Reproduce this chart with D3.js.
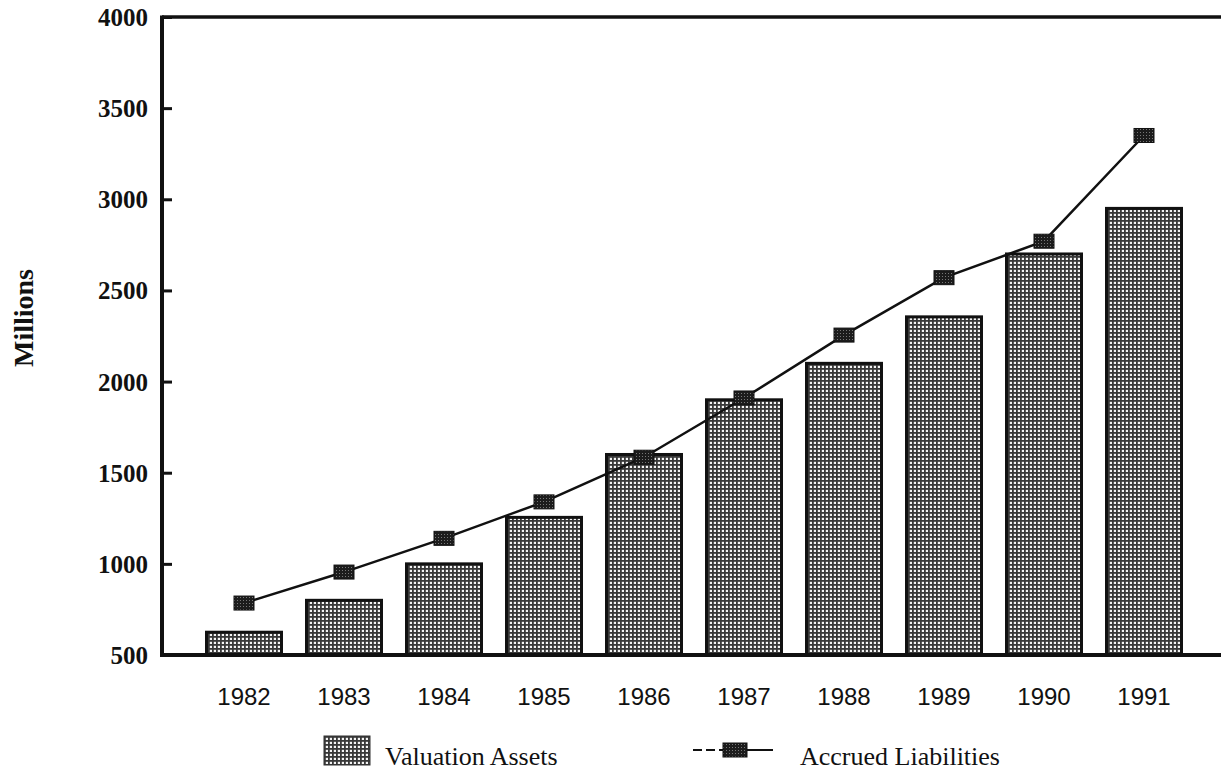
<!DOCTYPE html>
<html>
<head>
<meta charset="utf-8">
<script src="https://cdn.jsdelivr.net/npm/d3@7"></script>
<style>
  html, body { margin: 0; padding: 0; background: #fff; }
  svg { display: block; }
</style>
</head>
<body>
<div id="chartDiv"></div>
<script>
// Data
const years = ['1982', '1983', '1984', '1985', '1986', '1987', '1988', '1989', '1990', '1991'];
const valuationAssets = [625, 800, 1000, 1255, 1600, 1900, 2100, 2355, 2700, 2950];
const accruedLiabilities = [785, 955, 1140, 1340, 1585, 1910, 2255, 2570, 2770, 3350];
const yTickValues = [500, 1000, 1500, 2000, 2500, 3000, 3500, 4000];

// Build Variables
const width = 1221, height = 777;
const plot = { left: 162, right: 1221, top: 17, bottom: 655 };

const svg = d3.select('#chartDiv').append('svg')
  .attr('width', width)
  .attr('height', height);

// grid pattern used for the bars and legend swatch
const defs = svg.append('defs');
const pat = defs.append('pattern')
  .attr('id', 'grid')
  .attr('patternUnits', 'userSpaceOnUse')
  .attr('width', 4).attr('height', 4);
pat.append('rect').attr('width', 4).attr('height', 4).attr('fill', '#f4f4f4');
pat.append('rect').attr('x', 0).attr('y', 0).attr('width', 4).attr('height', 1.8).attr('fill', '#383838');
pat.append('rect').attr('x', 0).attr('y', 0).attr('width', 1.8).attr('height', 4).attr('fill', '#383838');

const mpat = defs.append('pattern')
  .attr('id', 'mark')
  .attr('patternUnits', 'userSpaceOnUse')
  .attr('width', 3).attr('height', 3);
mpat.append('rect').attr('width', 3).attr('height', 3).attr('fill', '#1c1c1c');
mpat.append('rect').attr('width', 1).attr('height', 1).attr('fill', '#777');

// Scales
const xScale = d3.scaleBand()
  .domain(years)
  .range([194, 1194])
  .paddingInner(0.25)
  .paddingOuter(0.125);

const yScale = d3.scaleLinear()
  .domain([500, 4000])
  .range([plot.bottom, plot.top]);

// Bars
svg.append('g').selectAll('rect')
  .data(valuationAssets)
  .enter().append('rect')
    .attr('x', (d, i) => xScale(years[i]))
    .attr('y', d => yScale(d))
    .attr('width', xScale.bandwidth())
    .attr('height', d => plot.bottom - yScale(d))
    .attr('fill', 'url(#grid)')
    .attr('stroke', '#111')
    .attr('stroke-width', 3);

// Line
const xCenter = i => xScale(years[i]) + xScale.bandwidth() / 2;
const line = d3.line()
  .x((d, i) => xCenter(i))
  .y(d => yScale(d));

svg.append('path')
  .datum(accruedLiabilities)
  .attr('d', line)
  .attr('fill', 'none')
  .attr('stroke', '#111')
  .attr('stroke-width', 2.5);

svg.append('g').selectAll('rect')
  .data(accruedLiabilities)
  .enter().append('rect')
    .attr('x', (d, i) => xCenter(i) - 10)
    .attr('y', d => yScale(d) - 7)
    .attr('width', 20)
    .attr('height', 14)
    .attr('fill', 'url(#mark)')
    .attr('stroke', '#111')
    .attr('stroke-width', 1);

// Y-AXIS
const yAxis = d3.axisRight(yScale)
  .tickValues(yTickValues)
  .tickSize(10)
  .tickFormat(d => d);

const yAxisG = svg.append('g')
  .attr('transform', `translate(${plot.left},0)`)
  .call(yAxis);
yAxisG.select('.domain').remove();
yAxisG.selectAll('.tick line')
  .attr('stroke', '#111')
  .attr('stroke-width', 3);
yAxisG.selectAll('.tick text')
  .attr('x', -14)
  .attr('dy', '0.34em')
  .attr('text-anchor', 'end')
  .style('font-family', '"Liberation Serif", serif')
  .style('font-weight', 'bold')
  .style('font-size', '25px')
  .attr('fill', '#111');

// X-AXIS
const xAxis = d3.axisBottom(xScale).tickSize(0).tickPadding(0);
const xAxisG = svg.append('g')
  .attr('transform', `translate(0,${plot.bottom})`)
  .call(xAxis);
xAxisG.select('.domain').remove();
xAxisG.selectAll('.tick text')
  .attr('y', 50)
  .attr('dy', 0)
  .style('font-family', '"Liberation Sans", Arial, sans-serif')
  .style('font-size', '24px')
  .attr('fill', '#111');

// frame lines
svg.append('line')
  .attr('x1', plot.left).attr('x2', plot.right)
  .attr('y1', plot.top).attr('y2', plot.top)
  .attr('stroke', '#111').attr('stroke-width', 3.5);
svg.append('line')
  .attr('x1', plot.left).attr('x2', plot.right)
  .attr('y1', plot.bottom).attr('y2', plot.bottom)
  .attr('stroke', '#111').attr('stroke-width', 4);
svg.append('line')
  .attr('x1', plot.left).attr('x2', plot.left)
  .attr('y1', plot.top - 1.5).attr('y2', plot.bottom + 2)
  .attr('stroke', '#111').attr('stroke-width', 4);

// Y label
svg.append('text')
  .attr('transform', 'translate(33,318) rotate(-90)')
  .attr('text-anchor', 'middle')
  .style('font-family', '"Liberation Serif", serif')
  .style('font-weight', 'bold')
  .style('font-size', '28px')
  .attr('fill', '#111')
  .text('Millions');

// Legend
const legend = svg.append('g');
legend.append('rect')
  .attr('x', 324).attr('y', 736)
  .attr('width', 46).attr('height', 29)
  .attr('fill', 'url(#grid)')
  .attr('stroke', '#333').attr('stroke-width', 1);
legend.append('text')
  .attr('x', 385).attr('y', 765)
  .style('font-family', '"Liberation Serif", serif')
  .style('font-size', '26px')
  .attr('fill', '#111')
  .text('Valuation Assets');

legend.append('line')
  .attr('x1', 693).attr('x2', 723)
  .attr('y1', 750).attr('y2', 750)
  .attr('stroke', '#111').attr('stroke-width', 2)
  .attr('stroke-dasharray', '9,4');
legend.append('line')
  .attr('x1', 747).attr('x2', 773)
  .attr('y1', 750).attr('y2', 750)
  .attr('stroke', '#111').attr('stroke-width', 2);
legend.append('rect')
  .attr('x', 723).attr('y', 743)
  .attr('width', 24).attr('height', 14)
  .attr('fill', 'url(#mark)')
  .attr('stroke', '#111');
legend.append('text')
  .attr('x', 800).attr('y', 765)
  .style('font-family', '"Liberation Serif", serif')
  .style('font-size', '26px')
  .attr('fill', '#111')
  .text('Accrued Liabilities');
</script>
</body>
</html>
